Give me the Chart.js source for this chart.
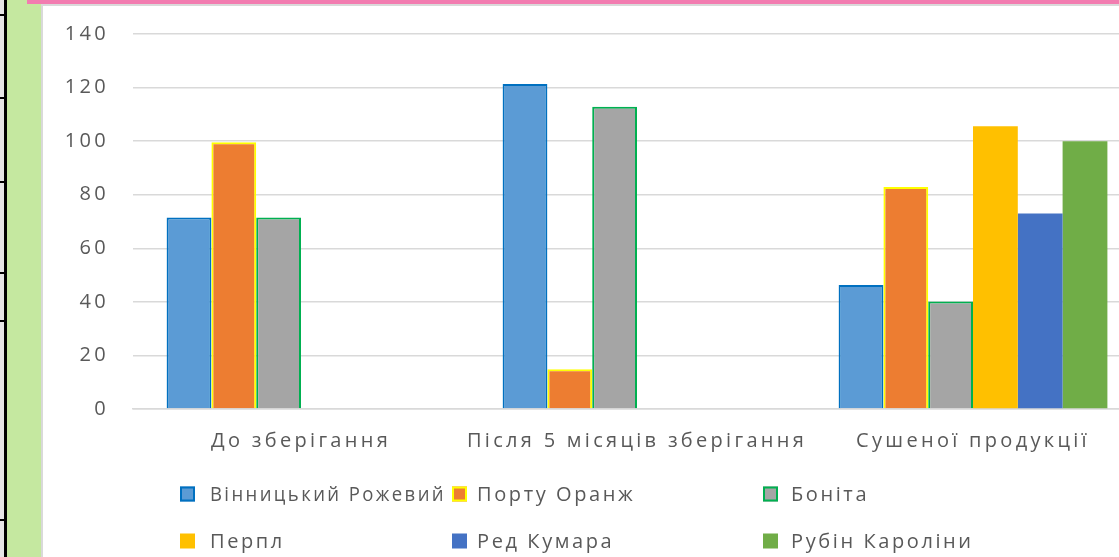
<!DOCTYPE html>
<html>
<head>
<meta charset="utf-8">
<script src="https://cdn.jsdelivr.net/npm/chart.js@4"></script>
<style>
  html, body { margin:0; padding:0; width:1119px; height:557px; overflow:hidden; background:#fff; position:relative; }
  .d { position:absolute; }
  #wrap { position:absolute; left:43px; top:-2px; width:1110px; height:559px; }
</style>
</head>
<body>
<div class="d" style="left:0;top:0;width:4px;height:557px;background:#e6e6e6"></div>
<div class="d" style="left:4px;top:0;width:3px;height:557px;background:#000"></div>
<div class="d" style="left:0;top:14px;width:6px;height:2px;background:#000"></div>
<div class="d" style="left:0;top:97px;width:6px;height:2px;background:#000"></div>
<div class="d" style="left:0;top:181px;width:6px;height:2px;background:#000"></div>
<div class="d" style="left:0;top:272px;width:6px;height:2px;background:#000"></div>
<div class="d" style="left:0;top:320px;width:6px;height:2px;background:#000"></div>
<div class="d" style="left:0;top:519px;width:6px;height:2px;background:#000"></div>
<div class="d" style="left:7px;top:0;width:34px;height:557px;background:#c5e8a0"></div>
<div class="d" style="left:41px;top:0;width:2px;height:557px;background:#d9d9d9"></div>
<div id="wrap"><canvas id="c"></canvas></div>
<div class="d" style="left:27px;top:0;width:1092px;height:4px;background:#f27cb0"></div>
<div class="d" style="left:43px;top:4px;width:1076px;height:2px;background:#d9d9d9"></div>
<script>
const categories = ['До зберігання', 'Після 5 місяців зберігання', 'Сушеної продукції'];
const seriesNames = ['Вінницький Рожевий', 'Порту Оранж', 'Боніта', 'Перпл', 'Ред Кумара', 'Рубін Кароліни'];
const vinnytskyi = [71.5, 121.3, 46.3];
const portu = [99.6, 14.8, 82.9];
const bonita = [71.5, 112.8, 40.1];
const perpl = [null, null, 105.6];
const redKumara = [null, null, 73.0];
const rubin = [null, null, 100.0];
const yTicks = [0, 20, 40, 60, 80, 100, 120, 140];

const fills = ['#5b9bd5', '#ed7d31', '#a5a5a5', '#ffc000', '#4472c4', '#70ad47'];
const borders = ['#0070c0', '#ffff00', '#00b050', null, null, null];
const values = [vinnytskyi, portu, bonita, perpl, redKumara, rubin];

const datasets = values.map((v, i) => ({
  label: seriesNames[i],
  data: v,
  backgroundColor: fills[i],
  borderColor: borders[i] || fills[i],
  borderWidth: borders[i] ? 2 : 0,
  borderSkipped: 'start',
  categoryPercentage: 0.8,
  barPercentage: 1.0
}));

const LS = '3.3px';
const LEG_LS = '2.6px';
const FONT = 'Open Sans';
const FS = 20;
const spacingPlugin = {
  id: 'spacing',
  beforeLayout(chart) { chart.ctx.letterSpacing = LS; },
  beforeDraw(chart) { chart.ctx.letterSpacing = LS; }
};

const gridLegend = {
  id: 'gridLegend',
  afterDraw(chart) {
    const ctx = chart.ctx;
    const boxX = [137, 409, 720];
    const textX = [167, 434, 748];
    const maxW = [236, 270, 300];
    const rows = [496, 543];
    ctx.save();
    ctx.letterSpacing = LEG_LS;
    ctx.font = FS + 'px "' + FONT + '"';
    ctx.textBaseline = 'middle';
    ctx.textAlign = 'left';
    chart.data.datasets.forEach((ds, i) => {
      const c = i % 3, y = rows[Math.floor(i / 3)];
      const x = boxX[c];
      const bw = borders[i] ? 2 : 0;
      ctx.fillStyle = ds.backgroundColor;
      ctx.fillRect(x, y - 7.5, 15, 15);
      if (bw) {
        ctx.strokeStyle = ds.borderColor;
        ctx.lineWidth = bw;
        ctx.strokeRect(x + 1, y - 6.5, 13, 13);
      }
      ctx.fillStyle = '#595959';
      ctx.fillText(ds.label, textX[c], y + 1, maxW[c]);
    });
    ctx.restore();
  }
};

new Chart(document.getElementById('c'), {
  type: 'bar',
  data: { labels: categories, datasets },
  options: {
    responsive: true,
    maintainAspectRatio: false,
    animation: false,
    layout: { padding: { top: 0, right: 12, bottom: 92, left: 0 } },
    plugins: { legend: { display: false }, tooltip: { enabled: false } },
    scales: {
      x: {
        grid: { display: false },
        border: { display: true, color: '#d9d9d9', width: 1.5 },
        ticks: { color: '#595959', font: { family: FONT, size: FS }, padding: 12, maxRotation: 0, autoSkip: false }
      },
      y: {
        min: 0, max: 140,
        afterBuildTicks(scale) { scale.ticks = yTicks.map(v => ({ value: v })); },
        afterFit(scale) { scale.width = 90; },
        grid: { color: '#d9d9d9', lineWidth: 1.5, drawTicks: false },
        border: { display: false },
        ticks: { color: '#595959', font: { family: FONT, size: FS }, padding: 24 }
      }
    }
  },
  plugins: [spacingPlugin, gridLegend]
});
</script>
</body>
</html>
